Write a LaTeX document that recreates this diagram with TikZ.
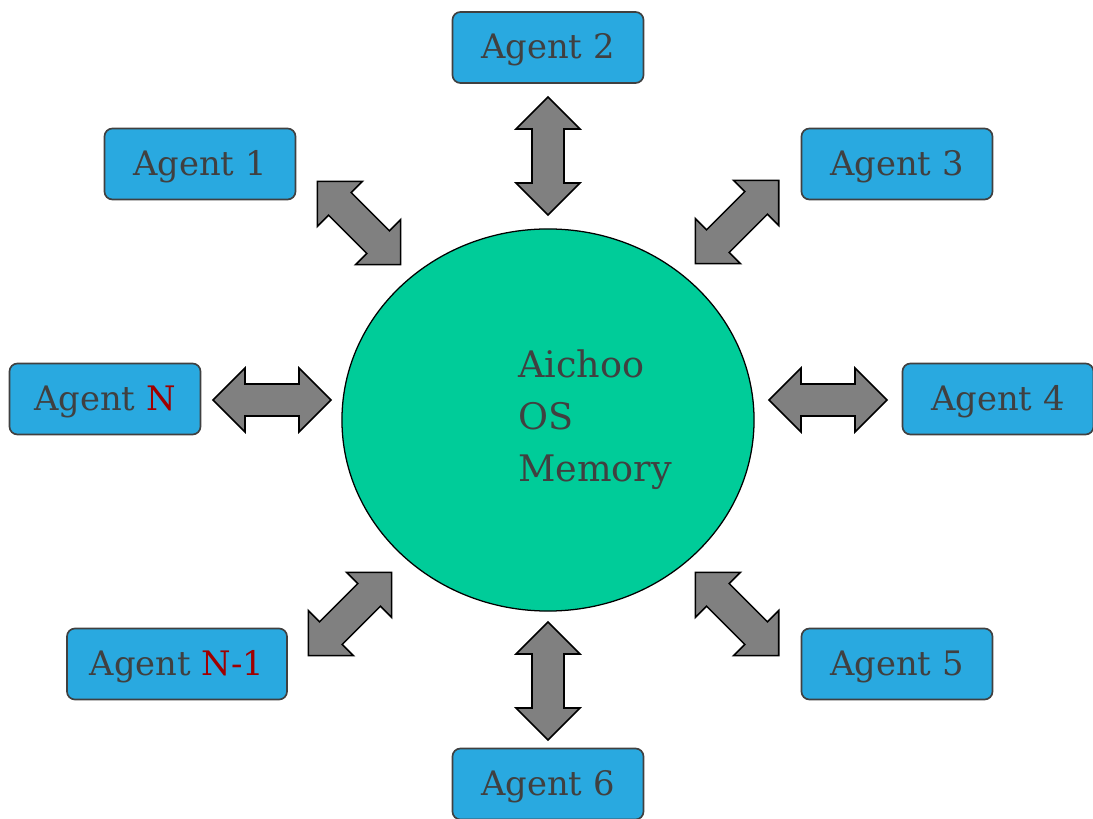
\documentclass[tikz,border=0pt]{standalone}
\usepackage{fontspec}
\setmainfont{DejaVu Serif}
\usepackage{xcolor}
\usepackage{tikz}
\usetikzlibrary{shapes.geometric}

\definecolor{agentblue}{HTML}{29A9E0}
\definecolor{memgreen}{HTML}{00CC99}
\definecolor{textgray}{HTML}{404040}
\definecolor{nred}{HTML}{A00000}

\tikzset{
  agent/.style={draw=black!75, line width=1.2pt, fill=agentblue, rounded corners=0.2cm,
    minimum width=4.775cm, minimum height=1.775cm, text=textgray,
    text height=22pt, text depth=6pt,
    font=\fontsize{24}{28}\selectfont},
  dblarrow/.pic={
    \draw[fill=gray, line width=1.1pt] (-59,0) -- (-27,32) -- (-27,16) -- (27,16) -- (27,32)
      -- (59,0) -- (27,-32) -- (27,-16) -- (-27,-16) -- (-27,-32) -- cycle;
  }
}

\begin{document}
\begin{tikzpicture}[x=0.025cm, y=-0.025cm]
            \useasboundingbox (0,0) rectangle (1093,819);
            % Shared memory
            \node[ellipse, draw, line width=0.9pt, fill=memgreen, minimum width=10.3cm,
              minimum height=9.55cm] (mem) at (548,420) {};
            \node[align=left, text=textgray, font=\fontsize{26}{37}\selectfont] (memtext)
              at (595,420) {Aichoo\\OS\\Memory};
            % Agents
            \node[agent] (ag2) at (548,47.5) {Agent 2};
            \node[agent] (ag1) at (200,164) {Agent 1};
            \node[agent] (ag3) at (897,164) {Agent 3};
            \node[agent] (agN) at (105,399) {Agent \textcolor{nred}{N}};
            \node[agent] (ag4) at (998,399) {Agent 4};
            \node[agent, minimum width=5.5cm] (agNm) at (177,664) {Agent \textcolor{nred}{N-1}};
            \node[agent] (ag5) at (897,664) {Agent 5};
            \node[agent] (ag6) at (548,784) {Agent 6};
            % Links to the memory
            \pic[rotate=90] at (548,156) {dblarrow};
            \pic[rotate=90] at (548,681) {dblarrow};
            \pic at (272,400) {dblarrow};
            \pic at (828,400) {dblarrow};
            \pic[rotate=-45] at (359,223) {dblarrow};
            \pic[rotate=45] at (737,222) {dblarrow};
            \pic[rotate=45] at (350,614) {dblarrow};
            \pic[rotate=-45] at (737,614) {dblarrow};
        \end{tikzpicture}
\end{document}
